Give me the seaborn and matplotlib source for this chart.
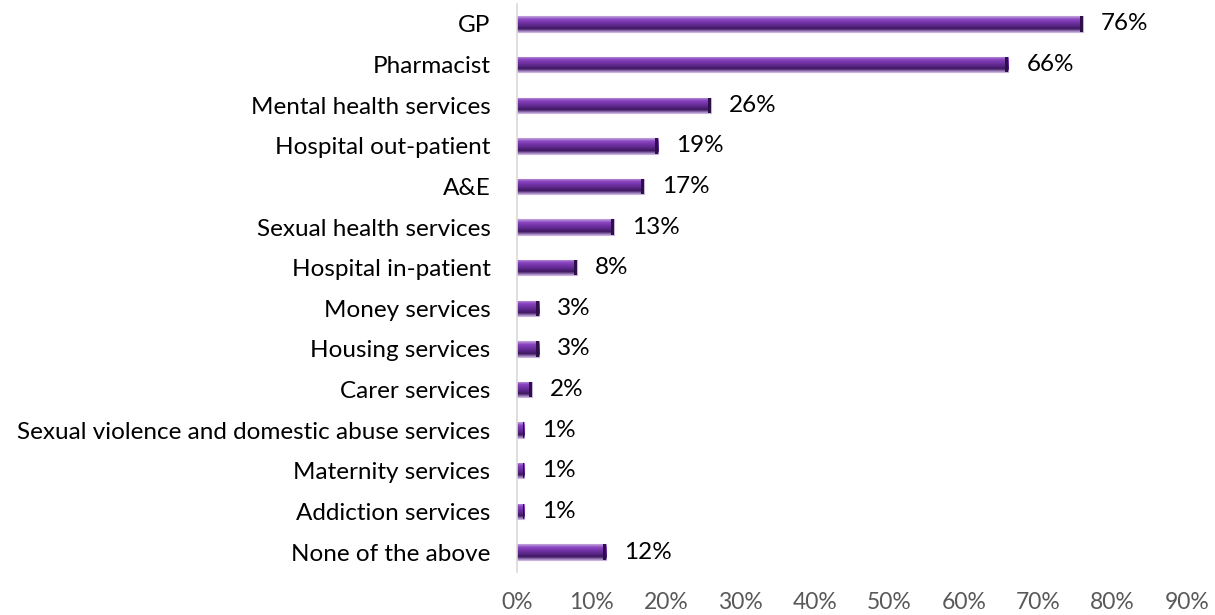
import numpy as np
import pandas as pd
import matplotlib
matplotlib.use("Agg")
import matplotlib.pyplot as plt
import seaborn as sns
from matplotlib.colors import LinearSegmentedColormap

# data
services = [
    "GP", "Pharmacist", "Mental health services", "Hospital out-patient",
    "A&E", "Sexual health services", "Hospital in-patient", "Money services",
    "Housing services", "Carer services",
    "Sexual violence and domestic abuse services", "Maternity services",
    "Addiction services", "None of the above",
]
shares = [0.76, 0.66, 0.26, 0.19, 0.17, 0.13, 0.08, 0.03, 0.03, 0.02, 0.01, 0.01, 0.01, 0.12]
value_labels = ["76%", "66%", "26%", "19%", "17%", "13%", "8%", "3%", "3%", "2%", "1%", "1%", "1%", "12%"]
tick_vals = [0.0, 0.1, 0.2, 0.3, 0.4, 0.5, 0.6, 0.7, 0.8, 0.9]
tick_labels = ["0%", "10%", "20%", "30%", "40%", "50%", "60%", "70%", "80%", "90%"]

df = pd.DataFrame({"service": services, "share": shares})

sns.set_style("white")
plt.rcParams["font.family"] = ["Lato", "DejaVu Sans"]
FS = 17.5

fig = plt.figure(figsize=(12.15, 6.15), dpi=100)
ax = fig.add_axes([0.4255, 0.0694, 0.5515, 0.9246])

sns.barplot(data=df, x="share", y="service", color="#7030A0", width=0.38,
            saturation=1, ax=ax, edgecolor="#C9B3DD", linewidth=0.8)

# bevel look: vertical gradient clipped to each bar
bevel = LinearSegmentedColormap.from_list(
    "bevel", ["#C3A6DC", "#8A45C0", "#7434A8", "#5A2687", "#3E1860", "#B99ED6"])
grad = np.linspace(0, 1, 64).reshape(-1, 1)
for p in ax.patches:
    x0, y0 = p.get_x(), p.get_y()
    w, h = p.get_width(), p.get_height()
    im = ax.imshow(grad, cmap=bevel, aspect="auto", origin="upper",
                   extent=[x0, x0 + w, y0 + h, y0], zorder=p.get_zorder() + 0.1)
    im.set_clip_path(p)
    # dark end cap
    cap = min(w * 0.25, 0.004)
    ax.add_patch(plt.Rectangle((x0 + w - cap, y0), cap, h,
                               color="#2E1048", zorder=p.get_zorder() + 0.2, lw=0))

ax.bar_label(ax.containers[0], labels=value_labels, padding=13, fontsize=FS, color="black")

ax.set_xlim(0, 0.9)
ax.set_ylim(len(services) - 0.5, -0.5)
ax.set_xticks(tick_vals)
ax.set_xticklabels(tick_labels, color="#595959", fontsize=16.5)
ax.tick_params(axis="x", length=0, pad=14)
ax.tick_params(axis="y", length=0, pad=19, labelsize=FS, labelcolor="black")
ax.set_xlabel("")
ax.set_ylabel("")

for side in ["top", "right", "bottom"]:
    ax.spines[side].set_visible(False)
ax.spines["left"].set_color("#D9D9D9")
ax.spines["left"].set_linewidth(1.2)

fig.savefig("out.png", dpi=100)
